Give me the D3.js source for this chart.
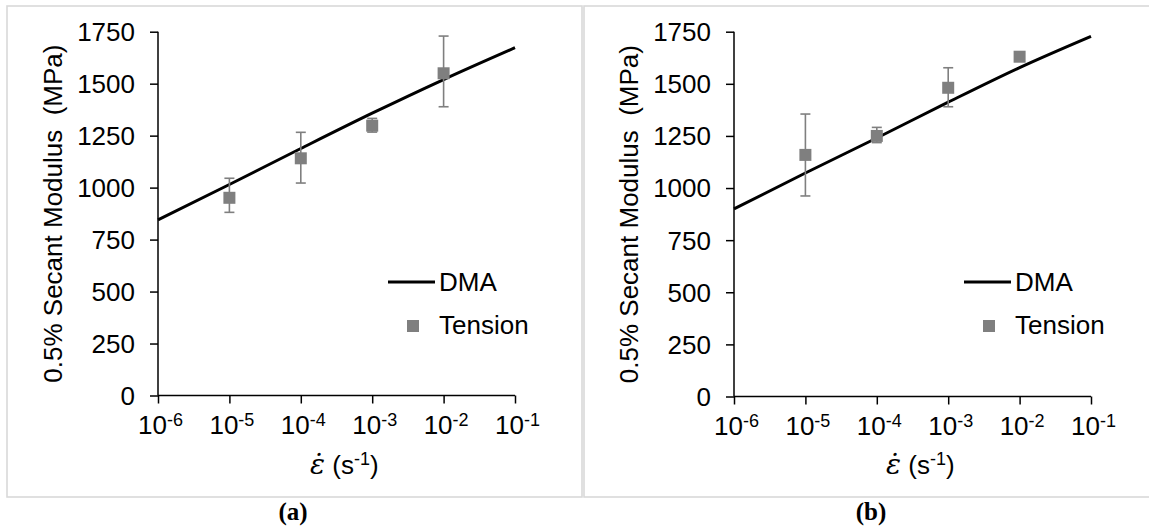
<!DOCTYPE html>
<html>
<head>
<meta charset="utf-8">
<script src="https://cdn.jsdelivr.net/npm/d3@7"></script>
<style>
  html, body { margin: 0; padding: 0; background: #fff; }
  svg { display: block; font-family: "Liberation Sans", Arial, sans-serif; }
</style>
</head>
<body>
<svg id="chart" width="1149" height="529"></svg>
<script>
// ---- data ----
const decades = [1e-6, 1e-5, 1e-4, 1e-3, 1e-2, 1e-1];
const decadeExps = ["-6", "-5", "-4", "-3", "-2", "-1"];
const yTicks = [0, 250, 500, 750, 1000, 1250, 1500, 1750];

const dmaA = [845, 1015, 1188, 1358, 1520, 1673];
const dmaB = [900, 1072, 1240, 1412, 1578, 1728];

const tensionRate = [1e-5, 1e-4, 1e-3, 1e-2];
const tensionA   = [951, 1141, 1298, 1550];
const tensionAHi = [1045, 1266, 1333, 1729];
const tensionALo = [881, 1022, 1267, 1389];
const tensionB   = [1159, 1250, 1481, 1630];
const tensionBHi = [1355, 1291, 1577, 1642];
const tensionBLo = [962, 1218, 1390, 1618];

const panelLabels = ["(a)", "(b)"];
const legendNames = ["DMA", "Tension"];

// ---- drawing ----
const SANS = '"Liberation Sans", Arial, sans-serif';
const SERIF = '"Liberation Serif", "Times New Roman", serif';
const svg = d3.select("#chart");

// panel frames
svg.append("rect").attr("x", 7).attr("y", 6).attr("width", 575).attr("height", 491)
  .attr("fill", "none").attr("stroke", "#d9d9d9").attr("stroke-width", 1.6);
svg.append("rect").attr("x", 584).attr("y", 6).attr("width", 600).attr("height", 491)
  .attr("fill", "none").attr("stroke", "#d9d9d9").attr("stroke-width", 1.6);

const panels = [
  { x0: 158, x1: 515, y0: 395.5, y1: 31.7, dma: dmaA, t: tensionA, hi: tensionAHi, lo: tensionALo,
    label: panelLabels[0], labelX: 293, xTitleX: 310 },
  { x0: 734, x1: 1091, y0: 396.5, y1: 31.7, dma: dmaB, t: tensionB, hi: tensionBHi, lo: tensionBLo,
    label: panelLabels[1], labelX: 871, xTitleX: 886 }
];

panels.forEach(p => {
  const x = d3.scaleLog().domain([1e-6, 1e-1]).range([p.x0, p.x1]);
  const y = d3.scaleLinear().domain([0, 1750]).range([p.y0, p.y1]);
  const g = svg.append("g");

  // y axis
  const ya = g.append("g").attr("transform", `translate(${p.x0},0)`)
    .call(d3.axisLeft(y).tickValues(yTicks).tickSize(8).tickPadding(15).tickFormat(d3.format("d")));
  ya.attr("font-family", SANS).attr("font-size", 26);
  ya.select(".domain").attr("stroke", "#000").attr("stroke-width", 1.5).attr("d", `M-0,${p.y1}V${p.y0}`);
  ya.selectAll(".tick line").attr("stroke", "#000").attr("stroke-width", 1.5);
  ya.selectAll(".tick text").attr("fill", "#000").attr("dy", "0.34em");

  // x axis
  const xa = g.append("g").attr("transform", `translate(0,${p.y0})`)
    .call(d3.axisBottom(x).tickValues(decades).tickSize(8).tickFormat(""));
  xa.attr("font-family", SANS).attr("font-size", 26);
  xa.select(".domain").attr("stroke", "#000").attr("stroke-width", 1.5).attr("d", `M${p.x0},0H${p.x1}`);
  xa.selectAll(".tick line").attr("stroke", "#000").attr("stroke-width", 1.5);
  xa.selectAll(".tick").each(function(d, i) {
    const t = d3.select(this).append("text")
      .attr("x", 2).attr("y", 38.5).attr("text-anchor", "middle")
      .attr("font-size", 26).attr("fill", "#000");
    t.append("tspan").text("10");
    t.append("tspan").attr("dy", -8).attr("font-size", 18).text(decadeExps[i]);
  });

  // y title
  g.append("text")
    .attr("transform", `translate(${p.x0 - 96.5},${(p.y0 + p.y1) / 2}) rotate(-90)`)
    .attr("text-anchor", "middle").attr("font-size", 26).attr("fill", "#000")
    .attr("font-family", SANS)
    .style("white-space", "pre")
    .text("0.5% Secant Modulus  (MPa)");

  // x title
  const xt = g.append("text").attr("x", p.xTitleX).attr("y", 474).attr("font-size", 26)
    .attr("font-family", SANS).attr("fill", "#000");
  xt.append("tspan").attr("font-family", '"DejaVu Serif", serif').attr("font-style", "italic")
    .attr("font-size", 28).text("\u03b5\u0307");
  xt.append("tspan").text(" (s");
  xt.append("tspan").attr("dy", -9).attr("font-size", 18).text("-1");
  xt.append("tspan").attr("dy", 9).text(")");

  // DMA line
  const line = d3.line().x(d => x(d[0])).y(d => y(d[1])).curve(d3.curveMonotoneX);
  g.append("path").datum(decades.map((d, i) => [d, p.dma[i]]))
    .attr("d", line).attr("fill", "none").attr("stroke", "#000").attr("stroke-width", 3);

  // error bars
  const eb = g.append("g").attr("stroke", "#7f7f7f").attr("stroke-width", 1.6);
  tensionRate.forEach((r, i) => {
    const cx = x(r);
    eb.append("line").attr("x1", cx).attr("x2", cx).attr("y1", y(p.hi[i])).attr("y2", y(p.lo[i]));
    eb.append("line").attr("x1", cx - 5).attr("x2", cx + 5).attr("y1", y(p.hi[i])).attr("y2", y(p.hi[i]));
    eb.append("line").attr("x1", cx - 5).attr("x2", cx + 5).attr("y1", y(p.lo[i])).attr("y2", y(p.lo[i]));
  });

  // markers
  g.selectAll("rect.tension").data(tensionRate.map((r, i) => [r, p.t[i]])).enter()
    .append("rect").attr("class", "tension")
    .attr("x", d => x(d[0]) - 6).attr("y", d => y(d[1]) - 6)
    .attr("width", 12).attr("height", 12).attr("fill", "#7f7f7f");

  // legend
  const lx = p.x0 + 230;
  g.append("line").attr("x1", lx).attr("x2", lx + 47).attr("y1", 282).attr("y2", 282)
    .attr("stroke", "#000").attr("stroke-width", 3);
  g.append("text").attr("x", lx + 51).attr("y", 291).attr("font-size", 26)
    .attr("font-family", SANS).attr("fill", "#000").text(legendNames[0]);
  g.append("rect").attr("x", lx + 19).attr("y", 320).attr("width", 12).attr("height", 12).attr("fill", "#7f7f7f");
  g.append("text").attr("x", lx + 51).attr("y", 334).attr("font-size", 26)
    .attr("font-family", SANS).attr("fill", "#000").text(legendNames[1]);

  // panel label
  svg.append("text").attr("x", p.labelX).attr("y", 520).attr("text-anchor", "middle")
    .attr("font-family", SERIF).attr("font-weight", "bold").attr("fill", "#000")
    .attr("font-size", 25).text(p.label);
});
</script>
</body>
</html>
